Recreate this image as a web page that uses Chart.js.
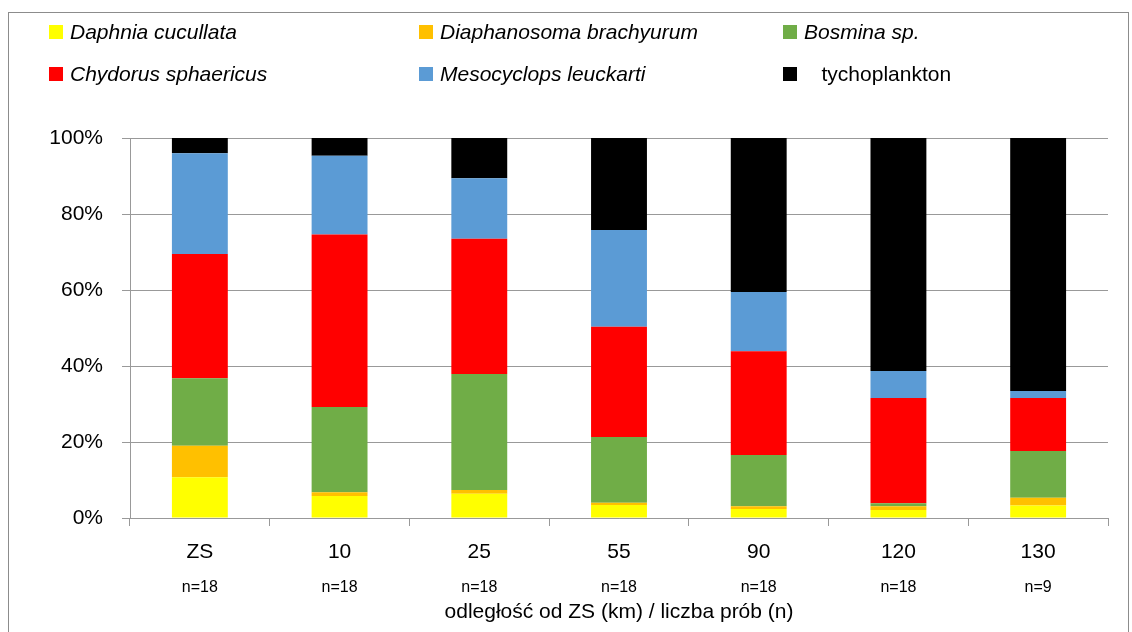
<!DOCTYPE html>
<html>
<head>
<meta charset="utf-8">
<script src="https://cdn.jsdelivr.net/npm/chart.js@4/dist/chart.umd.min.js"></script>
<style>
  html, body { margin: 0; padding: 0; background: #fff; }
  #wrap { position: relative; width: 1132px; height: 632px; overflow: hidden; }
  #frame { position: absolute; left: 8px; top: 12px; width: 1121px; height: 700px; border: 1px solid #8c8c8c; box-sizing: border-box; }
  #chart { position: absolute; left: 0; top: 0; }
  .leg { position: absolute; height: 22px; font-family: 'Liberation Sans', Arial, sans-serif; font-size: 21px; line-height: 22px; color: #000; white-space: pre; }
  .leg span.box { position: absolute; left: 0; top: 4px; width: 14px; height: 14px; }
  .leg span.txt { position: absolute; left: 21px; top: 0; }
</style>
</head>
<body>
<div id="wrap">
  <div id="frame"></div>
  <canvas id="chart" width="1132" height="632"></canvas>
</div>
<script>
var distances = ['ZS', '10', '25', '55', '90', '120', '130'];
var sampleCounts = ['n=18', 'n=18', 'n=18', 'n=18', 'n=18', 'n=18', 'n=9'];

var daphnia      = [10.7, 5.8, 6.4, 3.4, 2.4, 2.1, 3.3];
var diaphanosoma = [8.3, 1.0, 1.0, 0.6, 0.7, 1.0, 2.0];
var bosmina      = [17.8, 22.4, 30.5, 17.3, 13.5, 0.8, 12.3];
var chydorus     = [32.7, 45.4, 35.6, 29.0, 27.3, 27.7, 14.0];
var mesocyclops  = [26.5, 20.7, 15.9, 25.5, 15.6, 7.1, 1.8];
var tycho        = [4.0, 4.7, 10.6, 24.2, 40.5, 61.3, 66.6];

var yTicks = [0, 20, 40, 60, 80, 100];

var series = [
  { label: 'Daphnia cucullata', data: daphnia, color: '#FFFF00' },
  { label: 'Diaphanosoma brachyurum', data: diaphanosoma, color: '#FFC000' },
  { label: 'Bosmina sp.', data: bosmina, color: '#70AD47' },
  { label: 'Chydorus sphaericus', data: chydorus, color: '#FF0000' },
  { label: 'Mesocyclops leuckarti', data: mesocyclops, color: '#5B9BD5' },
  { label: 'tychoplankton', data: tycho, color: '#000000' }
];

// legend in 3 columns, 2 rows
var legX = [49, 419, 783];
var legY = [21, 63];
var wrap = document.getElementById('wrap');
series.forEach(function (s, i) {
  var d = document.createElement('div');
  d.className = 'leg';
  d.style.left = legX[i % 3] + 'px';
  d.style.top = legY[Math.floor(i / 3)] + 'px';
  var italic = s.label !== 'tychoplankton';
  var txt = italic ? s.label : '   ' + s.label;
  d.innerHTML = '<span class="box" style="background:' + s.color + '"></span>' +
    '<span class="txt" style="font-style:' + (italic ? 'italic' : 'normal') + '">' + txt + '</span>';
  wrap.appendChild(d);
});

var font = 'Liberation Sans, Arial, sans-serif';
var gridColor = '#999999';

new Chart(document.getElementById('chart').getContext('2d'), {
  type: 'bar',
  data: {
    labels: distances,
    datasets: series.map(function (s) {
      return {
        label: s.label,
        data: s.data,
        backgroundColor: s.color,
        borderWidth: 0,
        barPercentage: 1,
        categoryPercentage: 0.4,
        xAxisID: 'x'
      };
    })
  },
  options: {
    responsive: false,
    animation: false,
    layout: { padding: { left: 0, right: 24, top: 138, bottom: 0 } },
    plugins: { legend: { display: false }, tooltip: { enabled: false } },
    scales: {
      x: {
        stacked: true,
        offset: true,
        weight: 0,
        grid: { display: true, drawOnChartArea: false, drawTicks: true, tickLength: 8, color: gridColor, offset: true },
        border: { display: true, color: gridColor },
        ticks: { color: '#000', font: { family: font, size: 21 }, padding: 14, maxRotation: 0 },
        afterFit: function (s) { s.height = 47; }
      },
      x2: {
        type: 'category',
        labels: sampleCounts,
        position: 'bottom',
        offset: true,
        weight: 1,
        grid: { display: false, drawTicks: false, tickLength: 0 },
        border: { display: false },
        ticks: { color: '#000', font: { family: font, size: 16 }, padding: 13, maxRotation: 0 },
        title: {
          display: true,
          text: 'odległość od ZS (km) / liczba prób (n)',
          color: '#000',
          font: { family: font, size: 21 },
          padding: { top: 0, bottom: 7 }
        },
        afterFit: function (s) { s.height = 67; }
      },
      y: {
        stacked: true,
        min: 0,
        max: 100,
        afterBuildTicks: function (s) { s.ticks = yTicks.map(function (v) { return { value: v }; }); },
        grid: { color: gridColor, tickLength: 8, drawTicks: true },
        border: { display: true, color: gridColor },
        ticks: {
          color: '#000',
          font: { family: font, size: 21 },
          padding: 19,
          callback: function (v) { return v + '%'; }
        },
        afterFit: function (s) { s.width = 130; }
      }
    }
  }
});
</script>
</body>
</html>
